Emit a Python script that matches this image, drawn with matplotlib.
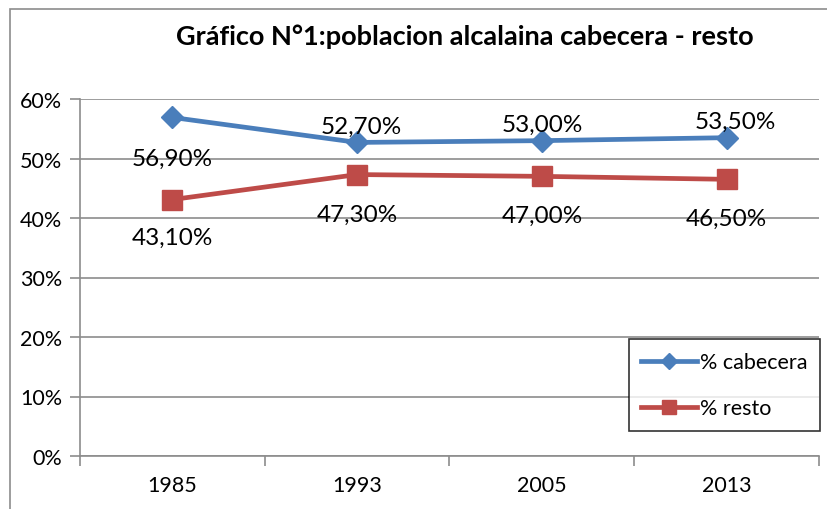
import matplotlib.pyplot as plt
import matplotlib.patches as mpatches
import numpy as np

plt.rcParams['font.family'] = ['Lato', 'DejaVu Sans']

years = ["1985", "1993", "2005", "2013"]
cabecera = [56.9, 52.7, 53.0, 53.5]
resto = [43.1, 47.3, 47.0, 46.5]
cab_labels = ["56,90%", "52,70%", "53,00%", "53,50%"]
resto_labels = ["43,10%", "47,30%", "47,00%", "46,50%"]
# label offsets (points) relative to the data point
cab_off = [(0, -29.5), (3, 11.5), (0, 12), (6, 11.5)]
resto_off = [(0, -27.5), (0, -29), (0, -28), (0, -28)]

W, H = 828, 510
fig = plt.figure(figsize=(W / 100, H / 100), dpi=100)
ax = fig.add_axes([80 / W, 53 / H, 739 / W, 357 / H])

# outer chart frame (cropped at right / bottom)
fig.patches.append(mpatches.Rectangle((10 / W, -0.1), 1.2, (500 / H) + 0.1,
                                      transform=fig.transFigure, fill=False,
                                      edgecolor="#8c8c8c", lw=1.2))

x = np.arange(len(years))
blue = "#4A7EBB"
red = "#BE4B48"
ax.plot(x, cabecera, color=blue, lw=3.4, marker="D", ms=11, label="% cabecera", zorder=3)
ax.plot(x, resto, color=red, lw=3.4, marker="s", ms=14, label="% resto", zorder=3)

for xi, v, lab, off in zip(x, cabecera, cab_labels, cab_off):
    ax.annotate(lab, (xi, v), xytext=off, textcoords="offset points",
                ha="center", va="center", fontsize=17.5)
for xi, v, lab, off in zip(x, resto, resto_labels, resto_off):
    ax.annotate(lab, (xi, v), xytext=off, textcoords="offset points",
                ha="center", va="center", fontsize=17.5)

ax.set_xlim(-0.5, 3.5)
ax.set_ylim(0, 60)
ax.set_yticks(np.arange(0, 61, 10))
ax.set_yticklabels([f"{t}%" for t in range(0, 61, 10)], fontsize=15.5)
ax.set_xticks(x)
ax.set_xticklabels(years, fontsize=15.5)
ax.set_xticks(np.arange(-0.5, 3.6, 1), minor=True)
ax.tick_params(axis="x", which="major", length=0, pad=14)
ax.tick_params(axis="x", which="minor", length=7, color="#8c8c8c", width=1.2)
ax.tick_params(axis="y", length=7, color="#8c8c8c", width=1.2, pad=6)
ax.grid(axis="y", color="#8c8c8c", lw=1.2)
ax.set_axisbelow(True)
for s in ["top", "right"]:
    ax.spines[s].set_visible(False)
for s in ["left", "bottom"]:
    ax.spines[s].set_color("#8c8c8c")
    ax.spines[s].set_linewidth(1.2)

leg = ax.legend(loc="lower right", bbox_to_anchor=(820 / W, 78 / H),
                bbox_transform=fig.transFigure, fontsize=15.5, frameon=True,
                fancybox=False, edgecolor="black", handlelength=2.6,
                labelspacing=1.2, borderpad=0.6, handletextpad=0.1,
                borderaxespad=0, markerscale=0.75)
leg.get_frame().set_linewidth(1.2)

fig.text(465 / W, 1 - 37 / H, "Gráfico N°1:poblacion alcalaina cabecera - resto",
         ha="center", va="center", fontsize=19.5, fontweight="bold")

fig.savefig("out.png", dpi=100)
